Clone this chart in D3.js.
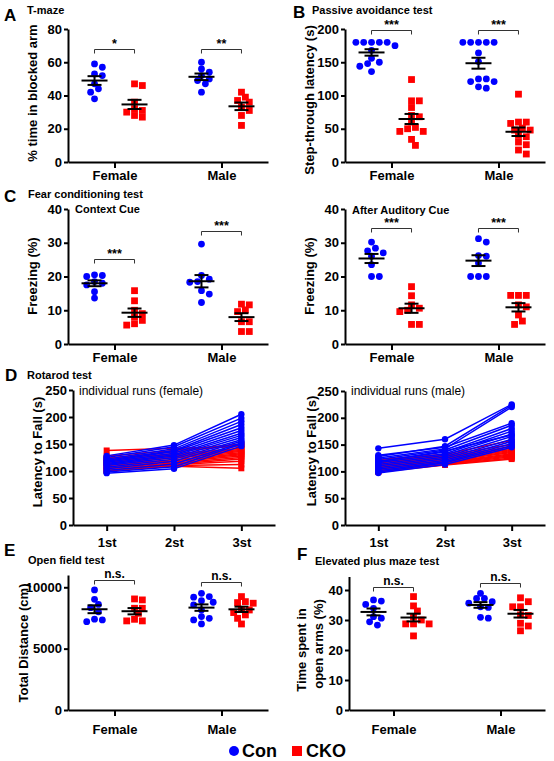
<!DOCTYPE html>
<html><head><meta charset="utf-8">
<script src="https://cdn.jsdelivr.net/npm/d3@7"></script>
<style>body{margin:0;background:#fff} svg{display:block;font-family:"Liberation Sans",Arial,Helvetica,sans-serif}</style>
</head><body>
<svg id="chart" width="554" height="761"></svg>
<script>
// ---------- DATA ----------
const sexes = ["Female", "Male"];
const groups = ["Con", "CKO"];
const groupColors = ["#0000ff", "#ff0000"];

// A: T-maze (% time in blocked arm)
const tmazeConF = [57, 59, 53, 52, 47, 44, 42, 38];
const tmazeCkoF = [46, 47, 32, 36, 28, 30, 27, 31];
const tmazeConM = [54, 56, 60, 50, 52, 49, 47, 42];
const tmazeCkoM = [42, 39, 37, 36, 31, 33, 28, 22];
const tmazeTicks = [0, 20, 40, 60, 80];
const tmazeSig = ["*", "**"];

// B: Passive avoidance (step-through latency, s)
const paConF = [180, 180, 180, 180, 180, 168, 175, 156, 150, 148, 144, 136];
const paCkoF = [124, 92, 92, 82, 70, 68, 60, 52, 50, 46, 46, 34, 25];
const paConM = [180, 180, 180, 180, 180, 164, 151, 125, 125, 121, 121, 111, 113];
const paCkoM = [102, 60, 58, 60, 51, 48, 48, 40, 38, 26, 30, 18, 12];
const paTicks = [0, 50, 100, 150, 200];
const paSig = ["***", "***"];

// C: Fear conditioning, context cue (freezing %)
const ctxConF = [20.5, 20.3, 20, 18.5, 18, 17.5, 15.5, 13.6];
const ctxCkoF = [15.8, 12.8, 10, 9, 8, 7, 6, 5.6];
const ctxConM = [29.6, 20.3, 19.2, 18.5, 18.3, 15.8, 14.8, 12.3];
const ctxCkoM = [11.6, 11.8, 10.1, 9.6, 6.6, 6.6, 3.7, 3.7];
// C: after auditory cue
const audConF = [30.2, 28.4, 27.6, 27, 26, 23.5, 20, 20];
const audCkoF = [17, 14.3, 11.6, 10.6, 10, 9.6, 5.8, 5.8];
const audConM = [31.2, 30.2, 26.2, 26, 24, 20, 20, 20];
const audCkoM = [14.4, 14.4, 14.4, 11, 11.6, 8.6, 6.8, 5.8];
const freezeTicks = [0, 10, 20, 30, 40];
const fearSig = ["***", "***"];

// D: Rotarod individual runs [1st, 2st, 3st]
const trials = ["1st", "2st", "3st"];
const rotFemaleCon = [
  [128,148,205],[125,145,198],[122,141,192],[120,138,186],[118,136,180],[116,133,175],
  [114,130,170],[112,128,166],[110,125,162],[107,122,158],[104,118,155],[101,113,152],
  [98,108,150],[96,104,146]];
const rotFemaleCko = [
  [138,142,145],[128,138,150],[124,135,148],[122,132,142],[120,130,140],[118,128,138],
  [116,126,136],[114,124,134],[112,121,132],[110,119,130],[108,117,128],[106,115,125],
  [104,113,122],[102,112,118],[101,110,112],[100,109,105]];
const rotMaleCon = [
  [143,160,225],[128,147,223],[125,142,220],[130,145,190],[122,140,186],[119,136,180],
  [116,133,175],[113,130,170],[110,127,165],[107,124,160],[104,121,156],[101,118,152],
  [99,116,148],[97,113,145],[118,138,168]];
const rotMaleCko = [
  [122,132,158],[120,130,150],[118,128,146],[116,126,143],[114,124,141],[112,122,139],
  [110,120,137],[108,119,135],[106,117,133],[105,116,131],[103,115,129],[101,114,127],
  [100,113,125],[99,112,123]];
const rotTicks = [0, 50, 100, 150, 200, 250];

// E: Open field (total distance, cm)
const ofConF = [9780, 9020, 8600, 8340, 8000, 7400, 7340, 7200];
const ofCkoF = [9050, 8970, 8290, 8290, 7880, 7260, 7260, 7390];
const ofConM = [9510, 9190, 9240, 8780, 8910, 8560, 8150, 7610, 7340, 7010, 7470];
const ofCkoM = [9240, 8750, 8830, 8700, 8200, 8150, 7940, 7750, 7470, 7010];
const ofTicks = [0, 5000, 10000];
const nsSig = ["n.s.", "n.s."];

// F: Elevated plus maze (time in open arms, %)
const epmConF = [36.7, 35.2, 36.3, 33.9, 30.6, 31.1, 28.3, 29.4];
const epmCkoF = [37.8, 34.7, 33, 30, 28.7, 28.7, 28.7, 24.7, 31.1];
const epmConM = [38.9, 37.2, 37.2, 35.6, 36.1, 34.2, 34.4, 30.6, 30.9];
const epmCkoM = [36.1, 37.4, 34.4, 34.4, 31.7, 31.5, 28.9, 28, 26.4];
const epmTicks = [0, 10, 20, 30, 40];

// ---------- DRAWING ----------
const svg = d3.select("#chart");

function addText(x, y, str, size, weight, anchor, rotate) {
  const t = svg.append("text").attr("x", x).attr("y", y).text(str)
    .attr("font-size", size).attr("font-weight", weight || "bold")
    .attr("text-anchor", anchor || "start").attr("fill", "#000");
  if (rotate) t.attr("transform", `rotate(-90,${x},${y})`);
  return t;
}
function styleAxis(sel) {
  sel.select(".domain").attr("stroke", "#000").attr("stroke-width", 2);
  sel.selectAll(".tick line").attr("stroke", "#000").attr("stroke-width", 2);
  sel.selectAll(".tick text").attr("fill", "#000").attr("font-size", 13)
    .attr("font-weight", "bold").attr("font-family", '"Liberation Sans",Arial,sans-serif');
}
function swarm(vals, y, cx, r) {
  const pts = vals.map(v => ({v, py: y(v)})).sort((a, b) => a.py - b.py);
  const placed = [];
  const step = r * 1.15;
  pts.forEach(p => {
    for (let k = 0; k < 60; k++) {
      const off = k === 0 ? 0 : (k % 2 ? 1 : -1) * Math.ceil(k / 2) * step;
      const px = cx + off;
      if (placed.every(q => Math.hypot(q.px - px, q.py - p.py) >= 2 * r * 0.92)) {
        p.px = px; placed.push(p); break;
      }
    }
  });
  return placed;
}

function scatterPanel(p) {
  const x = d3.scalePoint().domain(sexes).range(p.xr).padding(p.pad);
  const y = d3.scaleLinear().domain(p.yd).range(p.yr);
  svg.append("g").attr("transform", `translate(${p.xr[0]},0)`)
    .call(d3.axisLeft(y).tickValues(p.ticks).tickSize(4).tickSizeOuter(0).tickPadding(2).tickFormat(d3.format("d")))
    .call(styleAxis);
  svg.append("g").attr("transform", `translate(0,${p.yr[0]})`)
    .call(d3.axisBottom(x).tickSize(6).tickSizeOuter(0).tickPadding(p.labPad))
    .call(styleAxis);
  const r = 3.4;
  sexes.forEach((s, si) => {
    groups.forEach((gname, gi) => {
      const vals = p.data[si][gi];
      const cx = x(s) + (gi === 0 ? -20 : 20);
      const pts = swarm(vals, y, cx, r);
      const col = groupColors[gi];
      if (gi === 0) {
        svg.append("g").selectAll("circle").data(pts).join("circle")
          .attr("cx", d => d.px).attr("cy", d => d.py).attr("r", r).attr("fill", col);
      } else {
        svg.append("g").selectAll("rect").data(pts).join("rect")
          .attr("x", d => d.px - r).attr("y", d => d.py - r)
          .attr("width", 2 * r).attr("height", 2 * r).attr("fill", col);
      }
      const m = d3.mean(vals), se = d3.deviation(vals) / Math.sqrt(vals.length);
      const eg = svg.append("g").attr("stroke", "#000").attr("stroke-width", 2).attr("fill", "none");
      eg.append("line").attr("x1", cx - 13).attr("x2", cx + 13).attr("y1", y(m)).attr("y2", y(m));
      eg.append("line").attr("x1", cx).attr("x2", cx).attr("y1", y(m - se)).attr("y2", y(m + se));
      eg.append("line").attr("x1", cx - 7).attr("x2", cx + 7).attr("y1", y(m - se)).attr("y2", y(m - se));
      eg.append("line").attr("x1", cx - 7).attr("x2", cx + 7).attr("y1", y(m + se)).attr("y2", y(m + se));
    });
    // bracket
    const by = Math.round(y(p.bracket[si])) + 0.5;
    const x1 = x(s) - 20, x2 = x(s) + 20;
    svg.append("path").attr("d", `M${x1},${by + 4}V${by}H${x2}V${by + 4}`)
      .attr("fill", "none").attr("stroke", "#333").attr("stroke-width", 1);
    const isNs = p.sig[si] === "n.s.";
    addText(x(s), by - (isNs ? 3 : 1.5), p.sig[si], isNs ? 12 : 12.5, "bold", "middle");
  });
  return {x, y};
}

// Panel A
scatterPanel({xr: [68, 268], pad: 0.435, yd: [0, 80], yr: [162, 29], ticks: tmazeTicks,
  data: [[tmazeConF, tmazeCkoF], [tmazeConM, tmazeCkoM]], bracket: [68, 68], sig: tmazeSig, labPad: 3});
// Panel B
scatterPanel({xr: [345, 545], pad: 0.435, yd: [0, 200], yr: [162, 29], ticks: paTicks,
  data: [[paConF, paCkoF], [paConM, paCkoM]], bracket: [198.5, 198.5], sig: paSig, labPad: 3});
// Panel C left
scatterPanel({xr: [68, 268], pad: 0.435, yd: [0, 40], yr: [344, 209], ticks: freezeTicks,
  data: [[ctxConF, ctxCkoF], [ctxConM, ctxCkoM]], bracket: [25.2, 33.5], sig: fearSig, labPad: 3});
// Panel C right
scatterPanel({xr: [345, 545], pad: 0.435, yd: [0, 40], yr: [344, 209], ticks: freezeTicks,
  data: [[audConF, audCkoF], [audConM, audCkoM]], bracket: [34.4, 34.4], sig: fearSig, labPad: 3});
// Panel E
scatterPanel({xr: [68, 268], pad: 0.435, yd: [0, 11000], yr: [710, 575], ticks: ofTicks,
  data: [[ofConF, ofCkoF], [ofConM, ofCkoM]], bracket: [10570, 10400], sig: nsSig, labPad: 9});
// Panel F
scatterPanel({xr: [349, 545], pad: 0.416, yd: [0, 44.5], yr: [710, 576.5], ticks: epmTicks,
  data: [[epmConF, epmCkoF], [epmConM, epmCkoM]], bracket: [41, 42.3], sig: nsSig, labPad: 9});

// Panel D rotarod
function rotarodPanel(p) {
  const x = d3.scalePoint().domain(trials).range(p.xr).padding(0.5);
  const y = d3.scaleLinear().domain([0, 250]).range(p.yr);
  svg.append("g").attr("transform", `translate(${p.xr[0]},0)`)
    .call(d3.axisLeft(y).tickValues(rotTicks).tickSize(4).tickSizeOuter(0).tickPadding(2))
    .call(styleAxis);
  svg.append("g").attr("transform", `translate(0,${p.yr[0]})`)
    .call(d3.axisBottom(x).tickSize(6).tickSizeOuter(0).tickPadding(7))
    .call(styleAxis);
  const line = d3.line().x((d, i) => x(trials[i])).y(d => y(d));
  [[p.cko, 1], [p.con, 0]].forEach(([runs, gi]) => {
    const col = groupColors[gi];
    const g = svg.append("g");
    runs.forEach(run => {
      g.append("path").attr("d", line(run)).attr("fill", "none").attr("stroke", col).attr("stroke-width", 1.5);
      run.forEach((v, i) => {
        if (gi === 0) g.append("circle").attr("cx", x(trials[i])).attr("cy", y(v)).attr("r", 3.2).attr("fill", col);
        else g.append("rect").attr("x", x(trials[i]) - 3).attr("y", y(v) - 3).attr("width", 6).attr("height", 6).attr("fill", col);
      });
    });
  });
}
rotarodPanel({xr: [73, 275], yr: [525, 390], con: rotFemaleCon, cko: rotFemaleCko});
rotarodPanel({xr: [345, 545], yr: [525, 391], con: rotMaleCon, cko: rotMaleCko});

// ---------- TEXT ----------
addText(4, 21, "A", 17); addText(27, 14, "T-maze", 11);
addText(293, 18, "B", 17); addText(312, 14, "Passive avoidance test", 11);
addText(4, 202, "C", 17); addText(28, 198, "Fear conditioning test", 11);
addText(75, 213, "Context Cue", 11); addText(352, 214, "After Auditory Cue", 11);
addText(5, 381, "D", 17); addText(27, 379, "Rotarod test", 11);
addText(79, 395, "individual runs (female)", 12, "normal");
addText(351, 395, "individual runs (male)", 12, "normal");
addText(4, 556, "E", 17); addText(28, 564, "Open field test", 11);
addText(297, 560, "F", 17); addText(315, 565, "Elevated plus maze test", 11);

// y-axis labels
addText(37, 93, "% time in blocked arm", 13, "bold", "middle", true);
addText(314, 100, "Step-through latency (s)", 13, "bold", "middle", true);
addText(37, 276, "Freezing (%)", 13, "bold", "middle", true);
addText(314, 276, "Freezing (%)", 13, "bold", "middle", true);
addText(42, 452, "Latency to Fall (s)", 13, "bold", "middle", true);
addText(316, 451, "Latency to Fall (s)", 13, "bold", "middle", true);
addText(28, 643, "Total Distance (cm)", 13, "bold", "middle", true);
addText(306, 650, "Time spent in", 13, "bold", "middle", true);
addText(323, 644, "open arms (%)", 13, "bold", "middle", true);

// legend
const leg = svg.append("g");
leg.append("circle").attr("cx", 234).attr("cy", 751).attr("r", 5).attr("fill", groupColors[0]);
addText(242, 757, groups[0], 18);
leg.append("rect").attr("x", 292).attr("y", 746).attr("width", 10).attr("height", 10).attr("fill", groupColors[1]);
addText(306, 757, groups[1], 18);
</script>
</body></html>
